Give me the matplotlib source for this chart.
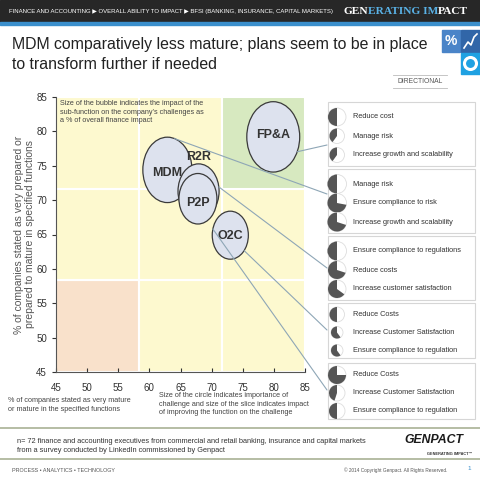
import matplotlib.pyplot as plt
import numpy as np
from matplotlib.patches import Rectangle, Ellipse, Wedge, Circle, ConnectionPatch

SANS = ['Liberation Sans', 'DejaVu Sans']
plt.rcParams['font.family'] = SANS

# ---- data ----
subfunctions = ['FP&A', 'MDM', 'R2R', 'P2P', 'O2C']
mature_pct = [79.9, 62.9, 67.9, 67.8, 73.0]      # x
prepared_pct = [79.2, 74.4, 71.3, 70.2, 64.9]    # y
impact_size = [8.5, 7.9, 6.6, 6.1, 5.8]          # bubble width in x units

x_ticks = [45, 50, 55, 60, 65, 70, 75, 80, 85]
y_ticks = [45, 50, 55, 60, 65, 70, 75, 80, 85]

challenges = [
    ['Reduce cost', 'Manage risk', 'Increase growth and scalability'],
    ['Manage risk', 'Ensure compliance to risk', 'Increase growth and scalability'],
    ['Ensure compliance to regulations', 'Reduce costs', 'Increase customer satisfaction'],
    ['Reduce Costs', 'Increase Customer Satisfaction', 'Ensure compliance to regulation'],
    ['Reduce Costs', 'Increase Customer Satisfaction', 'Ensure compliance to regulation'],
]
slice_share = [[0.5, 0.4, 0.4], [0.5, 0.72, 0.7], [0.5, 0.7, 0.65],
               [0.5, 0.6, 0.6], [0.75, 0.45, 0.5]]
challenge_weight = [[9, 7.5, 7.5], [9.5, 9.5, 9.5], [9.5, 9, 9],
                    [7.5, 6, 6], [9, 8, 8]]
callout_bubble = [0, 1, 2, 4, 4]
callout_angle = [-25, 73, 9, -40, 165]

zone_colors = [['#f9e1cb', '#fdf9cf', '#fdf9cf'],
               ['#fdf9cf', '#fdf9cf', '#fdf9cf'],
               ['#fdf9cf', '#fdf9cf', '#d7e9c0']]

fig = plt.figure(figsize=(4.8, 4.8), dpi=100)
fig.patch.set_facecolor('white')

# page overlay in pixel units (y down)
bg = fig.add_axes([0, 0, 1, 1], zorder=0)
bg.set_xlim(0, 480)
bg.set_ylim(480, 0)
bg.axis('off')
rend = fig.canvas.get_renderer()


def run_text(x, y, pieces, **kw):
    for s, c in pieces:
        t = bg.text(x, y, s, color=c, **kw)
        x += t.get_window_extent(renderer=rend).width


# header
bg.add_patch(Rectangle((0, 0), 480, 22, color='#272727'))
bg.add_patch(Rectangle((0, 22), 480, 3, color='#3a8fcc'))
bg.text(9, 11.5, 'FINANCE AND ACCOUNTING \u25b6 OVERALL ABILITY TO IMPACT \u25b6 BFSI (BANKING, INSURANCE, CAPITAL MARKETS)',
        color='white', fontsize=4.35, va='center')
run_text(343, 12, [('GEN', 'white'), ('ERATING IM', '#5ab2e6'), ('PACT', 'white')],
         fontsize=8.2, va='center', family=['Liberation Serif', 'DejaVu Serif'], fontweight='bold')

# title
bg.text(12, 37, 'MDM comparatively less mature; plans seem to be in place\nto transform further if needed',
        fontsize=11.4, va='top', linespacing=1.45, color='#222222')

# icons
bg.add_patch(Rectangle((442, 30), 18, 22, color='#4a84c8'))
bg.text(451, 41, '%', color='white', fontsize=10, fontweight='bold', ha='center', va='center')
bg.add_patch(Rectangle((461, 30), 19, 22, color='#3166a8'))
bg.plot([464, 468, 471, 474, 477], [48, 42, 45, 37, 34], color='white', lw=1.2)
bg.add_patch(Rectangle((461, 53), 19, 21, color='#1fa1e2'))
bg.add_patch(Circle((470.5, 63.5), 6, facecolor='none', edgecolor='white', lw=2.2))

# directional tag
bg.plot([393, 447], [75, 75], color='#bbbbbb', lw=0.6)
bg.plot([393, 447], [88, 88], color='#bbbbbb', lw=0.6)
bg.text(420, 81.5, 'DIRECTIONAL', fontsize=4.9, color='#555555', ha='center', va='center')

# ---- bubble chart ----
ax = fig.add_axes([56 / 480, 1 - 372 / 480, 249 / 480, 275 / 480], zorder=1)
ax.set_facecolor('none')
ax.set_xlim(45, 85)
ax.set_ylim(45, 85)
edges = [45, 45 + 40 / 3, 45 + 80 / 3, 85]
for r in range(3):
    for c in range(3):
        ax.add_patch(Rectangle((edges[c], edges[r]), edges[c + 1] - edges[c], edges[r + 1] - edges[r],
                               facecolor=zone_colors[r][c], edgecolor='white', lw=1.5, zorder=0))

# bubbles are drawn about 1.33x taller than wide
px_x = 249 / 40
px_y = 275 / 40
stretch = 1.33 * px_x / px_y
for name, x, y, d in zip(subfunctions, mature_pct, prepared_pct, impact_size):
    ax.add_patch(Ellipse((x, y), d, d * stretch, facecolor='#dde2ee', edgecolor='#3a3a3a', lw=0.9, zorder=2))
label_dy = {'FP&A': 0.2, 'MDM': -0.4, 'R2R': 5.0, 'P2P': -0.6, 'O2C': -0.1}
for name, x, y in zip(subfunctions, mature_pct, prepared_pct):
    ax.text(x, y + label_dy[name], name, ha='center', va='center', fontsize=9,
            fontweight='bold', color='#333333', zorder=3)

ax.text(45.6, 84.6, "Size of the bubble indicates the impact of the\nsub-function on the company\u2019s challenges as\na % of overall finance impact",
        fontsize=5.2, va='top', color='#444444', linespacing=1.35)

ax.set_xticks(x_ticks)
ax.set_yticks(y_ticks)
ax.tick_params(axis='x', direction='in', length=3, labelsize=7, colors='#333333', pad=8)
ax.tick_params(axis='y', direction='out', length=3, labelsize=7, colors='#333333')
for s in ['top', 'right']:
    ax.spines[s].set_visible(False)
for s in ['left', 'bottom']:
    ax.spines[s].set_color('#555555')
    ax.spines[s].set_linewidth(0.8)
ax.set_ylabel('% of companies stated as very prepared or\nprepared to mature in specified functions',
              fontsize=7.5, color='#555555', labelpad=1, linespacing=1.15)

# ---- challenge boxes ----
box_top = [102, 169, 236, 303, 363]
box_bottom = [166, 233, 300, 358, 419]
callout_end_y = [145, 194, 268, 330, 390]
for b in range(5):
    y0, y1 = box_top[b], box_bottom[b]
    bg.add_patch(Rectangle((328, y0), 147, y1 - y0, facecolor='white', edgecolor='#d6d6d6', lw=0.8))
    step = 19 if y1 - y0 > 60 else 18
    mid = (y0 + y1) / 2 + 2
    for i in range(3):
        cy = mid + (i - 1) * step
        r = challenge_weight[b][i]
        f = slice_share[b][i]
        bg.add_patch(Circle((337, cy), r, facecolor='white', edgecolor='#dddddd', lw=0.6))
        bg.add_patch(Wedge((337, cy), r, -90 - f * 360, -90, facecolor='#555555', edgecolor='none'))
        bg.text(353, cy, challenges[b][i], fontsize=5.3, va='center', color='#333333')

    k = callout_bubble[b]
    a = np.radians(callout_angle[b])
    d = impact_size[k]
    sx = mature_pct[k] + d / 2 * np.cos(a)
    sy = prepared_pct[k] + d * stretch / 2 * np.sin(a)
    con = ConnectionPatch((sx, sy), (327, callout_end_y[b]), coordsA=ax.transData, coordsB=bg.transData,
                          color='#8ea6b6', lw=0.8, zorder=5)
    fig.add_artist(con)

# ---- captions and footer ----
bg.text(8, 397, '% of companies stated as very mature\nor mature in the specified functions',
        fontsize=5.2, va='top', color='#444444', linespacing=1.4)
bg.text(159, 392, 'Size of the circle indicates importance of\nchallenge and size of the slice indicates impact\nof improving the function on the challenge',
        fontsize=5.25, va='top', color='#444444', linespacing=1.35)

bg.plot([0, 480], [428, 428], color='#a9b295', lw=1.2)
bg.plot([0, 480], [459, 459], color='#a9b295', lw=1.2)
bg.text(17, 446, 'n= 72 finance and accounting executives from commercial and retail banking, insurance and capital markets\nfrom a survey conducted by LinkedIn commissioned by Genpact',
        fontsize=5.3, va='center', color='#333333', linespacing=1.5)
bg.text(434, 440, 'GENPACT', fontsize=8.8, fontweight='bold', fontstyle='italic', ha='center', va='center',
        color='#1a1a1a')
bg.text(472, 454, 'GENERATING IMPACT\u2122', fontsize=2.8, fontweight='bold', ha='right', va='center', color='#333333')
bg.text(12, 470, 'PROCESS \u2022 ANALYTICS \u2022 TECHNOLOGY', fontsize=3.9, va='center', color='#555555')
bg.text(448, 470, '\u00a9 2014 Copyright Genpact. All Rights Reserved.', fontsize=3.45, ha='right', va='center',
        color='#555555')
bg.text(467, 469, '1', fontsize=4.5, va='center', color='#3a8fcc')

fig.savefig('out.png', dpi=100)
